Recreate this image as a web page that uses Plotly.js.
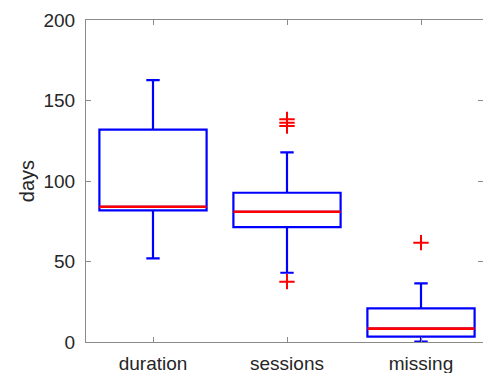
<!DOCTYPE html>
<html>
<head>
<meta charset="utf-8">
<script src="https://cdn.plot.ly/plotly-3.0.1.min.js"></script>
<style>html,body{margin:0;padding:0;background:#fff;}#chart{width:483px;height:373px;}</style>
</head>
<body>
<div id="chart"></div>
<script>
var categories = ["duration", "sessions", "missing"];
var lowerWhisker = [52, 43, 0.2];
var q1 = [81.8, 71.4, 3.3];
var medians = [84, 80.9, 8.3];
var q3 = [131.9, 92.7, 20.9];
var upperWhisker = [162.7, 117.8, 36.4];
var outliers = [[], [138.3, 136.2, 134.2, 37.5], [61.7]];
var yTicks = [0, 50, 100, 150, 200];

var boxWidth = 0.8;
var traces = [];
categories.forEach(function (c, i) {
  var x = i + 1;
  traces.push({
    type: 'box', x: [x], q1: [q1[i]], median: [medians[i]], q3: [q3[i]],
    lowerfence: [lowerWhisker[i]], upperfence: [upperWhisker[i]],
    width: boxWidth, whiskerwidth: 0.125,
    line: {color: '#0000ff', width: 2.2}, fillcolor: 'rgba(0,0,0,0)',
    boxpoints: false, hoverinfo: 'skip', showlegend: false
  });
  traces.push({
    type: 'scatter', mode: 'lines',
    x: [x - boxWidth / 2, x + boxWidth / 2], y: [medians[i], medians[i]],
    line: {color: '#ff0000', width: 2.6}, hoverinfo: 'skip', showlegend: false
  });
  if (outliers[i].length) {
    traces.push({
      type: 'scatter', mode: 'markers',
      x: outliers[i].map(function () { return x; }), y: outliers[i],
      marker: {symbol: 'cross-thin-open', size: 11, color: '#ff0000', line: {color: '#ff0000', width: 2}},
      hoverinfo: 'skip', showlegend: false
    });
  }
});

var layout = {
  width: 483, height: 373,
  margin: {l: 86, r: 0, t: 20, b: 31, pad: 0},
  paper_bgcolor: '#fff', plot_bgcolor: '#fff',
  font: {family: 'Liberation Sans, Arial, sans-serif', size: 19, color: '#262626'},
  xaxis: {
    range: [0.5, 3.4627], tickvals: [1, 2, 3], ticktext: categories,
    showgrid: false, zeroline: false, showline: true, linecolor: '#8a8a8a', linewidth: 1,
    mirror: 'ticks', ticks: 'inside', ticklen: 5, tickcolor: '#8a8a8a',
    tickfont: {size: 19, color: '#262626'}, ticklabelstandoff: 4, fixedrange: true
  },
  yaxis: {
    range: [0, 200], tickvals: yTicks,
    showgrid: false, zeroline: false, showline: true, linecolor: '#8a8a8a', linewidth: 1,
    mirror: 'ticks', ticks: 'inside', ticklen: 5, tickcolor: '#8a8a8a',
    tickfont: {size: 19, color: '#262626'}, ticklabelstandoff: 6,
    title: {text: 'days', font: {size: 20, color: '#262626'}, standoff: 3}, fixedrange: true
  },
  showlegend: false
};

Plotly.newPlot('chart', traces, layout, {staticPlot: true, displayModeBar: false});
</script>
</body>
</html>
